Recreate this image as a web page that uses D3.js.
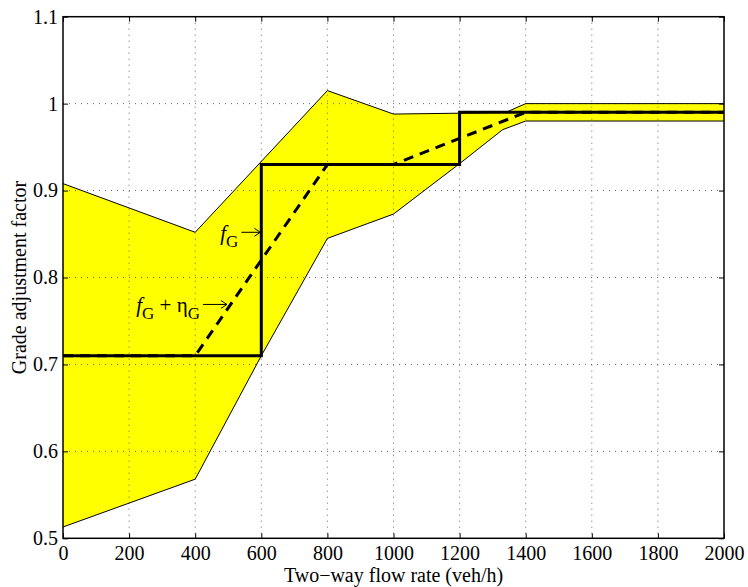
<!DOCTYPE html>
<html>
<head>
<meta charset="utf-8">
<style>
body { margin: 0; background: #fff; }
text { font-family: "Liberation Serif", "Times New Roman", serif; }
.axis text { font-size: 20px; fill: #000; }
.axis path { display: none; }
.axis line { stroke: #000; stroke-width: 1; }
.grid line { stroke: #666; stroke-width: 1; stroke-dasharray: 1,5; }
</style>
</head>
<body>
<script src="https://cdn.jsdelivr.net/npm/d3@7"></script>
<script>
// flow rate (veh/h) and the band / curves
const upperFlow = [0, 400, 800, 1000, 1200, 1340, 1400, 2000];
const upperVal  = [0.908, 0.852, 1.015, 0.988, 0.989, 0.990, 1.000, 1.000];
const lowerFlow = [0, 400, 600, 800, 1000, 1200, 1330, 1400, 2000];
const lowerVal  = [0.513, 0.568, 0.710, 0.845, 0.873, 0.931, 0.970, 0.980, 0.980];

// f_G step function
const stepFlow = [0, 600, 600, 1200, 1200, 2000];
const stepVal  = [0.71, 0.71, 0.93, 0.93, 0.99, 0.99];

// f_G + eta_G
const meanFlow = [0, 400, 800, 1000, 1200, 1400, 2000];
const meanVal  = [0.71, 0.71, 0.93, 0.93, 0.96, 0.99, 0.99];

const xTicks = d3.range(0, 2001, 200);
const yTicks = [0.5, 0.6, 0.7, 0.8, 0.9, 1, 1.1];

const W = 748, H = 587;
const margin = {top: 16.7, right: 24, bottom: 48.7, left: 63};
const width = W - margin.left - margin.right,
      height = H - margin.top - margin.bottom;

const svg = d3.select("body").append("svg")
    .attr("width", W)
    .attr("height", H);
const g = svg.append("g")
    .attr("transform", `translate(${margin.left},${margin.top})`);

const x = d3.scaleLinear().domain([0, 2000]).range([0, width]);
const y = d3.scaleLinear().domain([0.5, 1.1]).range([height, 0]);

// band between lower and upper bounds
const upper = upperFlow.map((f, i) => [f, upperVal[i]]);
const lower = lowerFlow.map((f, i) => [f, lowerVal[i]]);
const band = upper.concat(lower.slice().reverse());

g.append("path")
    .datum(band)
    .attr("fill", "#ffff00")
    .attr("stroke", "none")
    .attr("d", d3.line().x(d => x(d[0])).y(d => y(d[1])).curve(d3.curveLinearClosed));

// grid
const grid = g.append("g").attr("class", "grid");
grid.selectAll(".gx").data(xTicks.slice(1, -1)).enter().append("line")
    .attr("x1", d => x(d)).attr("x2", d => x(d))
    .attr("y1", 0).attr("y2", height);
grid.selectAll(".gy").data(yTicks.slice(1, -1)).enter().append("line")
    .attr("x1", 0).attr("x2", width)
    .attr("y1", d => y(d)).attr("y2", d => y(d));

const line = d3.line().x(d => x(d[0])).y(d => y(d[1]));

// band borders
[upper, lower].forEach(b => {
    g.append("path")
        .datum(b)
        .attr("fill", "none")
        .attr("stroke", "#000")
        .attr("stroke-width", 1)
        .attr("d", line);
});

// dashed f_G + eta_G
g.append("path")
    .datum(meanFlow.map((f, i) => [f, meanVal[i]]))
    .attr("fill", "none")
    .attr("stroke", "#000")
    .attr("stroke-width", 3)
    .attr("stroke-dasharray", "10,7")
    .attr("d", line);

// solid step f_G
g.append("path")
    .datum(stepFlow.map((f, i) => [f, stepVal[i]]))
    .attr("fill", "none")
    .attr("stroke", "#000")
    .attr("stroke-width", 3)
    .attr("d", line);

// axes, ticks pointing inward on all four sides
const fmtY = d => String(+d.toFixed(1));
g.append("g").attr("class", "axis")
    .attr("transform", `translate(0,${height})`)
    .call(d3.axisBottom(x).tickValues(xTicks).tickFormat(d3.format("d")).tickSizeInner(-5).tickSizeOuter(0).tickPadding(8));
g.append("g").attr("class", "axis")
    .call(d3.axisLeft(y).tickValues(yTicks).tickFormat(fmtY).tickSizeInner(-5).tickSizeOuter(0).tickPadding(5));
g.append("g").attr("class", "axis")
    .call(d3.axisTop(x).tickValues(xTicks).tickSizeInner(-5).tickSizeOuter(0).tickFormat(""));
g.append("g").attr("class", "axis")
    .attr("transform", `translate(${width},0)`)
    .call(d3.axisRight(y).tickValues(yTicks).tickSizeInner(-5).tickSizeOuter(0).tickFormat(""));

// frame
g.append("rect")
    .attr("x", 0).attr("y", 0)
    .attr("width", width).attr("height", height)
    .attr("fill", "none")
    .attr("stroke", "#000")
    .attr("stroke-width", 1.5);

// axis labels
svg.append("text")
    .attr("x", margin.left + width / 2)
    .attr("y", 582)
    .attr("text-anchor", "middle")
    .attr("font-size", 20)
    .text("Two\u2212way flow rate (veh/h)");

svg.append("text")
    .attr("transform", `translate(26,${margin.top + height / 2}) rotate(-90)`)
    .attr("text-anchor", "middle")
    .attr("font-size", 20)
    .text("Grade adjustment factor");

// annotations: arrow tips in data units
const notes = [
    {flow: 597, val: 0.852, len: 19, parts: [["f", "italic", 0], ["G", "normal", 1]]},
    {flow: 496, val: 0.769, len: 24, parts: [["f", "italic", 0], ["G", "normal", 1], [" + ", "normal", 0], ["\u03b7", "normal", 0], ["G", "normal", 1]]}
];

notes.forEach(n => {
    const ax = x(n.flow), ay = y(n.val);
    const a = g.append("g").attr("fill", "none").attr("stroke", "#000").attr("stroke-width", 1);
    a.append("line").attr("x1", ax - n.len).attr("x2", ax).attr("y1", ay).attr("y2", ay);
    a.append("path").attr("d", `M${ax - 6},${ay - 4} L${ax},${ay} L${ax - 6},${ay + 4}`);

    const t = g.append("text")
        .attr("x", ax - n.len - 3)
        .attr("y", ay + 8)
        .attr("text-anchor", "end")
        .attr("font-size", 21);
    let sub = 0;
    n.parts.forEach(p => {
        const dy = p[2] - sub;
        t.append("tspan")
            .attr("font-style", p[1])
            .attr("font-size", p[2] ? 17 : 21)
            .attr("dy", dy ? dy * 7 : null)
            .style("white-space", "pre")
            .text(p[0]);
        sub = p[2];
    });
});
</script>
</body>
</html>
